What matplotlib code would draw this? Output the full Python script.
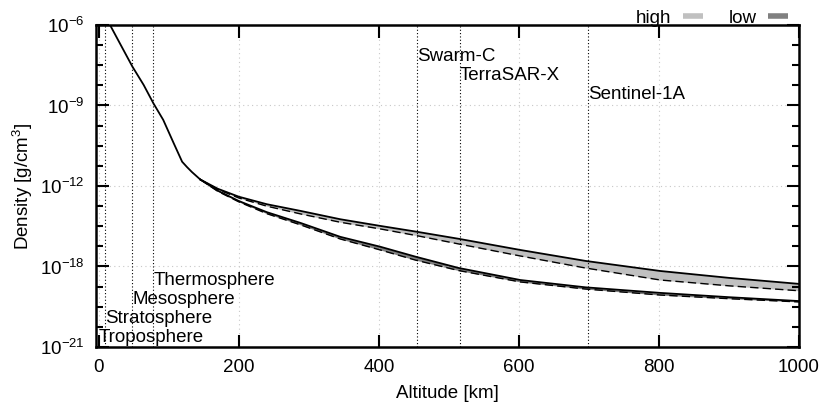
import numpy as np
import matplotlib.pyplot as plt
from matplotlib.lines import Line2D

plt.rcParams['font.family'] = ['Liberation Sans', 'DejaVu Sans']
plt.rcParams['mathtext.default'] = 'regular'
plt.rcParams['font.size'] = 13.5

# Perfil comum (abaixo de ~145 km), log10 da densidade na escala do eixo
alt_base = [0, 16, 30, 48, 64, 78, 92, 107, 119, 126, 133, 145]
log_base = [-5.05, -6.0, -6.85, -7.94, -8.79, -9.65, -10.42, -11.51, -12.37, -12.62, -12.85, -13.2]

# Banda "high" (atividade solar alta): limite superior (sólido) e inferior (tracejado)
alt_band = [145, 170, 200, 240, 288, 345, 402, 452, 514, 602, 695, 802, 900, 1000]
log_high_top = [-13.2, -13.63, -14.0, -14.35, -14.66, -15.05, -15.36, -15.62, -15.96, -16.48, -16.99, -17.46, -17.78, -18.06]
log_high_bot = [-13.2, -13.66, -14.06, -14.44, -14.80, -15.19, -15.50, -15.80, -16.20, -16.76, -17.32, -17.88, -18.15, -18.38]

# Banda "low" (atividade solar baixa)
log_low_top = [-13.2, -13.72, -14.2, -14.72, -15.22, -15.87, -16.33, -16.79, -17.32, -17.88, -18.22, -18.48, -18.68, -18.86]
log_low_bot = [-13.2, -13.75, -14.24, -14.79, -15.31, -15.97, -16.48, -16.95, -17.44, -17.97, -18.30, -18.58, -18.75, -18.90]

# Camadas da atmosfera (limite inferior, log10 da posição do rótulo)
camadas = ["Troposphere", "Stratosphere", "Mesosphere", "Thermosphere"]
camadas_alt = [0, 9, 48, 78]
camadas_y = [-20.58, -19.65, -18.77, -17.9]

# Satélites
satelites = ["Swarm-C", "TerraSAR-X", "Sentinel-1A"]
satelites_alt = [454, 516, 699]
satelites_y = [-7.49, -8.37, -9.26]

ytick_labels = ['$10^{-6}$', '$10^{-9}$', '$10^{-12}$', '$10^{-18}$', '$10^{-21}$']

pot = lambda v: 10.0 ** np.array(v)

fig = plt.figure(figsize=(8.32, 4.09), dpi=100)
ax = fig.add_axes([0.1154, 0.1516, 0.9603 - 0.1154, 0.9389 - 0.1516])

ax.fill_between(alt_band, pot(log_high_bot), pot(log_high_top), color='#c0c0c0', lw=0)
ax.fill_between(alt_band, pot(log_low_bot), pot(log_low_top), color='#808080', lw=0)

ax.plot(alt_base, pot(log_base), color='black', lw=1.3)
ax.plot(alt_band, pot(log_high_top), color='black', lw=1.3)
ax.plot(alt_band, pot(log_high_bot), color='black', lw=1.0, ls=(0, (6, 3)))
ax.plot(alt_band, pot(log_low_top), color='black', lw=1.3)
ax.plot(alt_band, pot(log_low_bot), color='black', lw=1.0, ls=(0, (6, 3)))

for nome, a, y in zip(camadas, camadas_alt, camadas_y):
    if a > 0:
        ax.axvline(a, color='black', lw=0.8, ls=(0, (1, 2)))
    ax.text(a, 10 ** y, nome, ha='left', va='center')

for nome, a, y in zip(satelites, satelites_alt, satelites_y):
    ax.axvline(a, color='black', lw=0.8, ls=(0, (1, 2)))
    ax.text(a, 10 ** y, nome, ha='left', va='center')

ax.set_xlim(-4, 1000)
ax.set_yscale('log')
ax.set_ylim(1e-21, 1e-6)
ax.set_xticks([0, 200, 400, 600, 800, 1000])
ax.set_yticks(10 ** np.linspace(-6, -21, 5))
ax.set_yticklabels(ytick_labels)
ax.set_yticks(10 ** np.linspace(-6, -21, 17), minor=True)
ax.yaxis.set_minor_formatter(plt.NullFormatter())
ax.tick_params(which='both', direction='in', top=True, right=True, width=1.5)
ax.tick_params(which='major', length=9)
ax.tick_params(which='minor', length=5)
ax.tick_params(axis='x', pad=9)
ax.tick_params(axis='y', pad=8)
for s in ax.spines.values():
    s.set_linewidth(1.8)

ax.grid(True, which='major', color='#c8c8c8', ls=(0, (1, 3)), lw=0.8)

ax.set_xlabel("Altitude [km]", labelpad=6)
ax.set_ylabel("Density [g/cm$^3$]", labelpad=4)

handles = [Line2D([], [], color='#c0c0c0', lw=4, solid_capstyle='butt'),
           Line2D([], [], color='#808080', lw=4, solid_capstyle='butt')]
ax.legend(handles, ["high", "low"], loc='lower right', bbox_to_anchor=(0.985, 0.995), ncol=2,
          frameon=False, markerfirst=False, handlelength=1.1, columnspacing=1.35,
          borderpad=0, borderaxespad=0, handletextpad=0.6)

plt.savefig('out.png', dpi=100)
